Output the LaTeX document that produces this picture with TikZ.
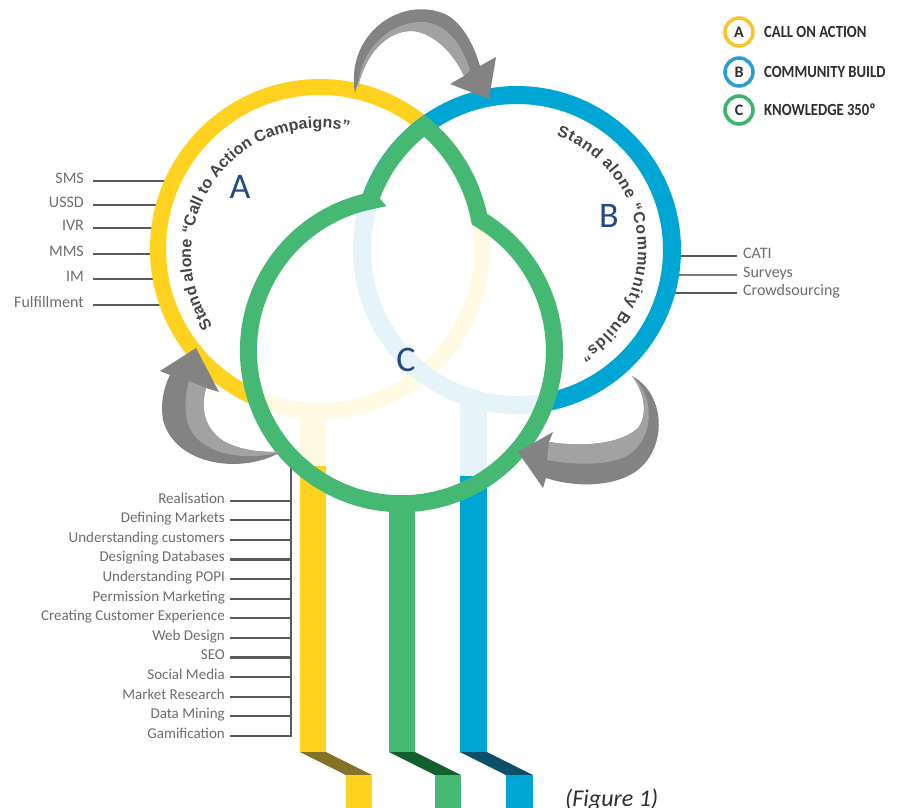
\documentclass[tikz,border=0pt]{standalone}
\usepackage{fontspec}
\setmainfont{Carlito}
\newfontfamily\legfont[FakeStretch=0.86]{Carlito}
\newfontfamily\arcfont{Liberation Sans}
\usetikzlibrary{decorations.text}
\definecolor{ayel}{HTML}{FFD21F}
\definecolor{bblu}{HTML}{00A6D3}
\definecolor{cgrn}{HTML}{45B873}
\definecolor{paley}{HTML}{FFFAE3}
\definecolor{paleb}{HTML}{E6F4FA}
\definecolor{dyel}{HTML}{857229}
\definecolor{dgrn}{HTML}{12602F}
\definecolor{dblu}{HTML}{0B4F68}
\definecolor{navy}{HTML}{264A7E}
\definecolor{lblgray}{HTML}{6E6E6E}
\definecolor{tickgray}{HTML}{5A5A5A}
\definecolor{arcgray}{HTML}{454545}
\definecolor{arrd}{HTML}{838383}
\definecolor{arrl}{HTML}{A2A2A2}
\definecolor{legy}{HTML}{F6C52A}
\definecolor{legb}{HTML}{2B9ED0}
\definecolor{legg}{HTML}{3DB46B}
\definecolor{legtxt}{HTML}{2E2E2E}
\def\greenpath{([shift={(517,250)}]198.7:155) arc[start angle=198.7, end angle=233.35, radius=155] arc[start angle=310, end angle=349.1, radius=162] arc[start angle=300.65, end angle=618.4, radius=153] -- cycle}
\begin{document}
\begin{tikzpicture}[x=1pt, y=-1pt,
  lbl/.style={font=\fontsize{16}{16}\selectfont, text=lblgray, inner sep=0pt},
  lbls/.style={font=\fontsize{15}{15}\selectfont, text=lblgray, inner sep=0pt},
  tick/.style={draw=tickgray, line width=2.2},
  thintick/.style={draw=tickgray!80, line width=1.1},
  bigl/.style={font=\fontsize{36}{36}\selectfont, text=navy, inner sep=0pt},
  legc/.style={circle, draw=#1, line width=3.5, minimum size=28, inner sep=0pt, font=\bfseries\fontsize{16}{16}\selectfont, text=legtxt},
  legt/.style={anchor=west, inner sep=0pt, font=\legfont\bfseries\fontsize{17}{17}\selectfont, text=legtxt},
  arctext/.style={decorate, decoration={text along path, text={#1}, text color=arcgray, text align={fit to path}}},
]
\useasboundingbox (0,0) rectangle (900,807);
\fill[white] (0,0) rectangle (900,807);

% left labels and ticks
\foreach \t/\y/\xe/\n in {SMS/181/173/sms, USSD/205/164/ussd, IVR/228/160/ivr, MMS/254/158/mms, IM/279/161/im, Fulfillment/305/168/ful}{
  \node[lbl, anchor=mid east] (\n) at (84,\y) {\t};
  \coordinate (\n-e) at (\xe,\y);
  \draw[tick] ([xshift=9pt]\n.mid east) -- (\n-e);
}
% right labels and ticks
\node[lbl, anchor=mid west] (cati) at (743,256) {CATI};
\node[lbl, anchor=mid west] (surv) at (743,275) {Surveys};
\node[lbl, anchor=mid west] (crowd) at (743,293) {Crowdsourcing};
\coordinate (cati-e) at (668,256);
\coordinate (surv-e) at (668,275);
\coordinate (crowd-e) at (664,293);
\draw[tick] ([xshift=-6pt]cati.mid west) -- (cati-e);
\draw[thintick] ([xshift=-6pt]surv.mid west) -- (surv-e);
\draw[tick] ([xshift=-6pt]crowd.mid west) -- (crowd-e);

% bottom list with bracket
\coordinate (brtop) at (291,460);
\coordinate (brbot) at (291,737);
\draw[tick] (brtop) -- (brbot);
\foreach \t/\n [count=\i from 0] in {Realisation/real, Defining Markets/defm, Understanding customers/undc, Designing Databases/desd, Understanding POPI/undp, Permission Marketing/perm, Creating Customer Experience/ccx, Web Design/webd, SEO/seo, Social Media/socm, Market Research/mres, Data Mining/datm, Gamification/gami}{
  \pgfmathsetmacro\yy{500.7+19.6*\i}
  \node[lbls, anchor=mid east] (\n) at (225,\yy) {\t};
  \coordinate (\n-e) at (291,\yy);
  \draw[tick] ([xshift=5pt]\n.mid east) -- (\n-e);
}

% solid rings A and B
\draw[ayel, line width=16] (320,249) circle[radius=162];
\draw[bblu, line width=18] (517,250) circle[radius=155];

% inside of C
\fill[white] \greenpath;
\begin{scope}
  \clip \greenpath;
  \draw[paley, line width=16] (320,249) circle[radius=162];
  \draw[paleb, line width=18] (517,250) circle[radius=155];
  \fill[paley] (300,405) rectangle (326,480);
  \fill[paleb] (460,395) rectangle (487,490);
\end{scope}

% pipes
\fill[ayel] (300,466) rectangle (326,752);
\fill[dyel] (300,752) -- (326,752) -- (372,775) -- (346,775) -- cycle;
\fill[ayel] (346,775) rectangle (372,808);
\fill[cgrn] (389,498) rectangle (415,752);
\fill[dgrn] (389,752) -- (415,752) -- (461,775) -- (435,775) -- cycle;
\fill[cgrn] (435,775) rectangle (461,808);
\fill[bblu] (460,476) rectangle (487,752);
\fill[dblu] (460,752) -- (487,752) -- (533,775) -- (506,775) -- cycle;
\fill[bblu] (506,775) rectangle (533,808);

% green outline C
\draw[cgrn, line width=17, line join=miter] \greenpath;

% curved texts
\path[arctext={|\arcfont\bfseries\fontsize{16}{16}\selectfont|Stand alone “Call to Action Campaigns”}] ([shift={(318,255)}]146:127) arc[start angle=146, end angle=284, radius=127];
\path[arctext={|\arcfont\bfseries\fontsize{16}{16}\selectfont|Stand alone “Community Builds”}] ([shift={(517,250)}]289:121) arc[start angle=289, end angle=419, radius=121];

% big letters
\node[bigl] (la) at (240,187) {A};
\node[bigl] (lb) at (609,216) {B};
\node[bigl] (lc) at (406,360) {C};

% grey arrows
% top
\fill[arrd] (355,93) .. controls (345,35) and (400,-5) .. (445,14) .. controls (462,22) and (474,45) .. (480,66) -- (496,57) -- (489,99) -- (450,84) -- (464,76) .. controls (450,45) and (425,30) .. (410,31) .. controls (385,32) and (365,55) .. cycle;
\fill[arrl] (358,88) .. controls (360,45) and (395,20) .. (425,22) .. controls (448,25) and (462,45) .. (470,70) -- (464,76) .. controls (450,45) and (425,30) .. (410,31) .. controls (385,32) and (365,55) .. cycle;
% left
\fill[arrd] (281,452) .. controls (240,475) and (175,465) .. (163,420) .. controls (160,400) and (165,385) .. (170,375) -- (160,371) -- (196,348) -- (219,392) -- (206,388) .. controls (200,410) and (205,430) .. (225,442) .. controls (245,452) and (265,452) .. cycle;
\fill[arrl] (281,452) .. controls (245,462) and (195,455) .. (187,420) .. controls (184,405) and (186,392) .. (189,381) -- (206,388) .. controls (200,410) and (205,430) .. (225,442) .. controls (245,452) and (265,452) .. cycle;
% right
\fill[arrd] (632,376) .. controls (668,395) and (668,455) .. (630,475) .. controls (605,488) and (570,486) .. (546,478) -- (543,488) -- (518,452) -- (553,432) -- (549,442) .. controls (580,447) and (620,445) .. (638,428) .. controls (648,415) and (645,393) .. cycle;
\fill[arrl] (632,376) .. controls (655,395) and (656,440) .. (625,457) .. controls (600,467) and (570,464) .. (547,460) -- (549,442) .. controls (580,447) and (620,445) .. (638,428) .. controls (648,415) and (645,393) .. cycle;

% legend
\node[legc=legy] (legA) at (739,32) {A};
\node[legc=legb] (legB) at (739,72) {B};
\node[legc=legg] (legC) at (739,110) {C};
\node[legt] (legAt) at (764,32) {CALL ON ACTION};
\node[legt] (legBt) at (764,72) {COMMUNITY BUILD};
\node[legt] (legCt) at (764,110) {KNOWLEDGE 350º};

% caption
\node[font=\itshape\fontsize{24}{24}\selectfont, text=legtxt, anchor=base west, inner sep=0pt] (cap) at (565,806) {(Figure 1)};
\end{tikzpicture}
\end{document}
